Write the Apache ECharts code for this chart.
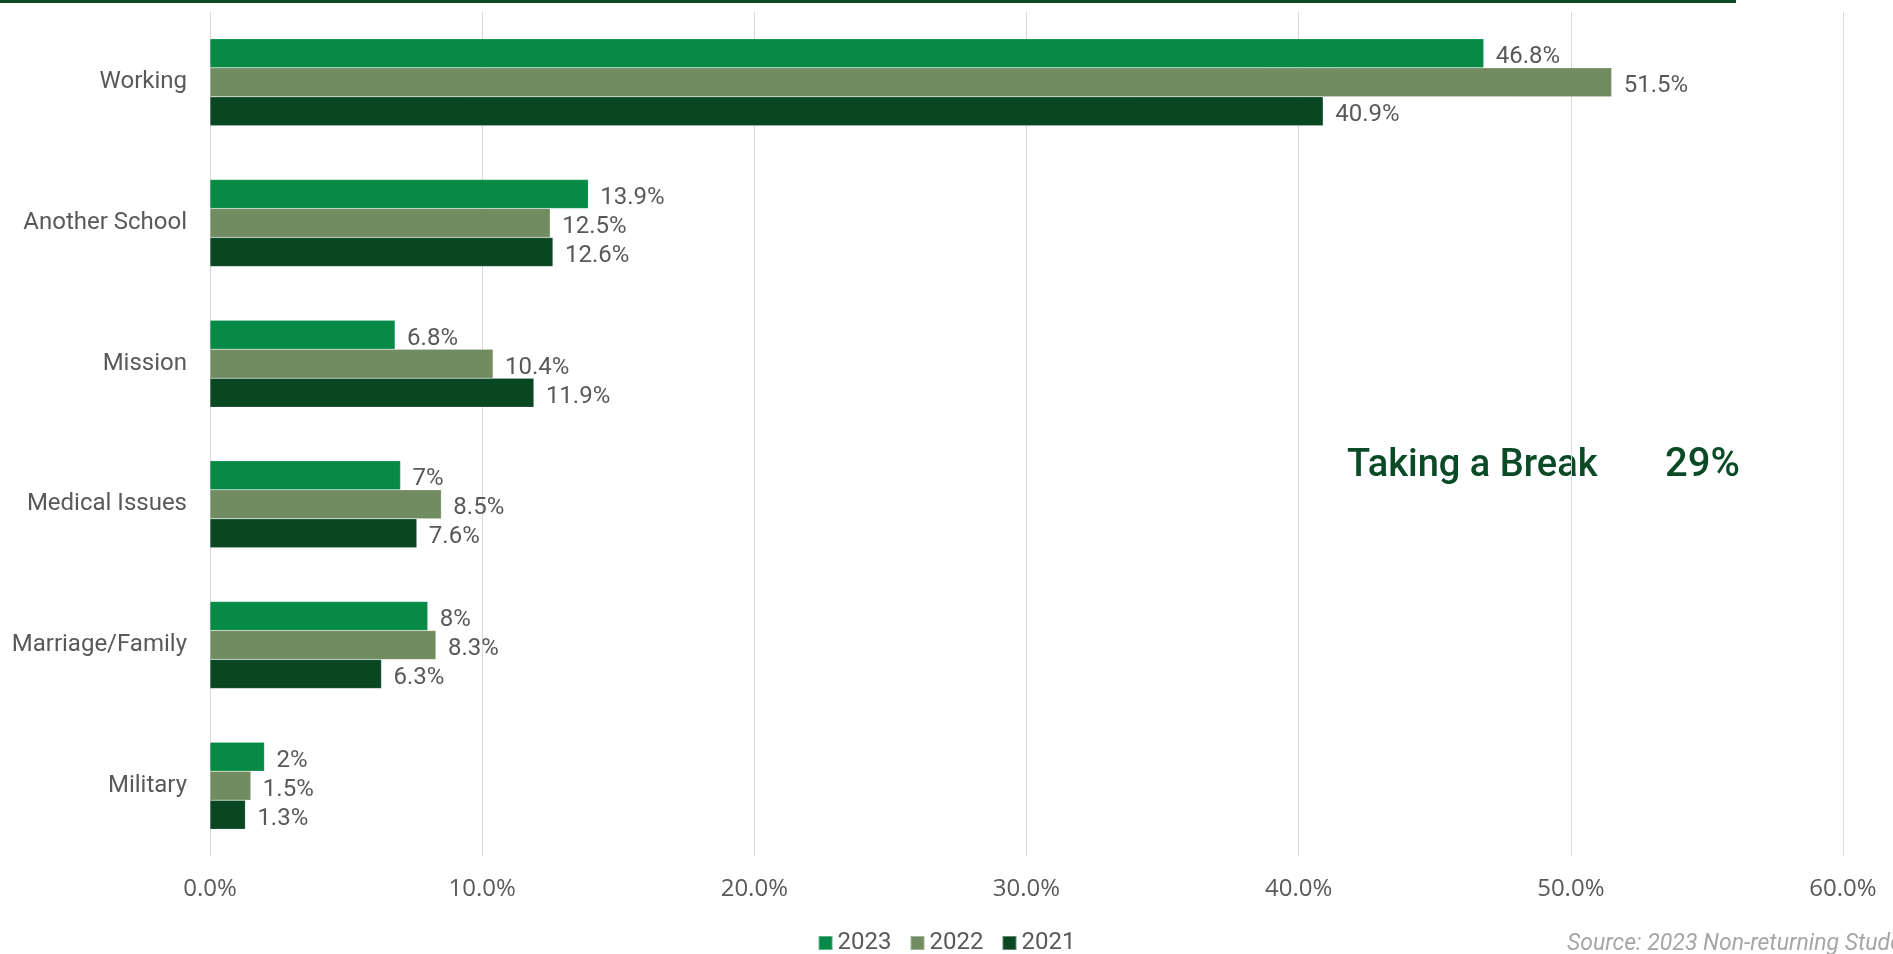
<!DOCTYPE html>
<html>
<head>
<meta charset="utf-8">
<script src="https://cdn.jsdelivr.net/npm/echarts@6/dist/echarts.min.js"></script>
<style>
  html, body { margin: 0; padding: 0; background: #fff; }
  #chart { width: 1893px; height: 954px; }
</style>
</head>
<body>
<div id="chart"></div>
<script>
// reasons students gave for not returning
const categories = ['Working', 'Another School', 'Mission', 'Medical Issues', 'Marriage/Family', 'Military'];
const years = ['2023', '2022', '2021'];
const values2023 = [46.8, 13.9, 6.8, 7, 8, 2];
const values2022 = [51.5, 12.5, 10.4, 8.5, 8.3, 1.5];
const values2021 = [40.9, 12.6, 11.9, 7.6, 6.3, 1.3];
const xTicks = [0, 10, 20, 30, 40, 50, 60];
const calloutLabel = 'Taking a Break';
const calloutValue = '29%';
const sourceNote = 'Source: 2023 Non-returning Student Survey';

const colors = ['#068a46', '#718c61', '#084722'];
const labelFont = 'Roboto';

const chart = echarts.init(document.getElementById('chart'));

const makeSeries = (name, data, color) => ({
    name: name,
    type: 'bar',
    data: data,
    barWidth: 29,
    barGap: '0%',
    itemStyle: { color: color, borderColor: 'rgba(255,255,255,0.35)', borderWidth: 0.5 },
    label: {
        show: true,
        position: 'right',
        distance: 12,
        offset: [0, 4],
        formatter: p => p.value + '%',
        color: '#595959',
        fontFamily: labelFont,
        fontSize: 24
    }
});

const option = {
    animation: false,
    color: colors,
    grid: { left: 210, right: 50, top: 12, bottom: 98, containLabel: false },
    legend: {
        data: years,
        top: 926,
        left: 'center',
        icon: 'rect',
        itemWidth: 14,
        itemHeight: 14,
        itemGap: 18,
        textStyle: { color: '#595959', fontFamily: labelFont, fontSize: 24 }
    },
    xAxis: {
        type: 'value',
        min: xTicks[0],
        max: xTicks[xTicks.length - 1],
        interval: 10,
        axisLine: { show: false },
        axisTick: { show: false },
        axisLabel: {
            formatter: v => v.toFixed(1) + '%',
            color: '#595959',
            fontFamily: 'Open Sans',
            fontSize: 24,
            margin: 21
        },
        splitLine: { lineStyle: { color: '#d9d9d9', width: 1 } }
    },
    yAxis: {
        type: 'category',
        data: categories,
        inverse: true,
        axisLine: { show: false },
        axisTick: { show: false },
        axisLabel: { color: '#595959', fontFamily: labelFont, fontSize: 24, margin: 23, padding: [8, 0, 0, 0] }
    },
    graphic: [
        { type: 'rect', left: 0, top: 0, shape: { width: 1736, height: 3 }, style: { fill: '#0a4a26' } },
        {
            type: 'text', x: 1347, y: 466,
            style: { text: calloutLabel, fill: '#0a4a26', font: '500 38px Roboto', verticalAlign: 'middle' }
        },
        {
            type: 'text', x: 1665, y: 466,
            style: { text: calloutValue, fill: '#0a4a26', font: '500 40px Roboto', verticalAlign: 'middle' }
        },
        {
            type: 'text', x: 1567, y: 944,
            style: { text: sourceNote, fill: '#a6a6a6', font: 'italic 23px Roboto', verticalAlign: 'middle' }
        }
    ],
    series: [
        makeSeries(years[0], values2023, colors[0]),
        makeSeries(years[1], values2022, colors[1]),
        makeSeries(years[2], values2021, colors[2])
    ]
};

chart.setOption(option);
window.addEventListener('resize', () => chart.resize());
</script>
</body>
</html>
